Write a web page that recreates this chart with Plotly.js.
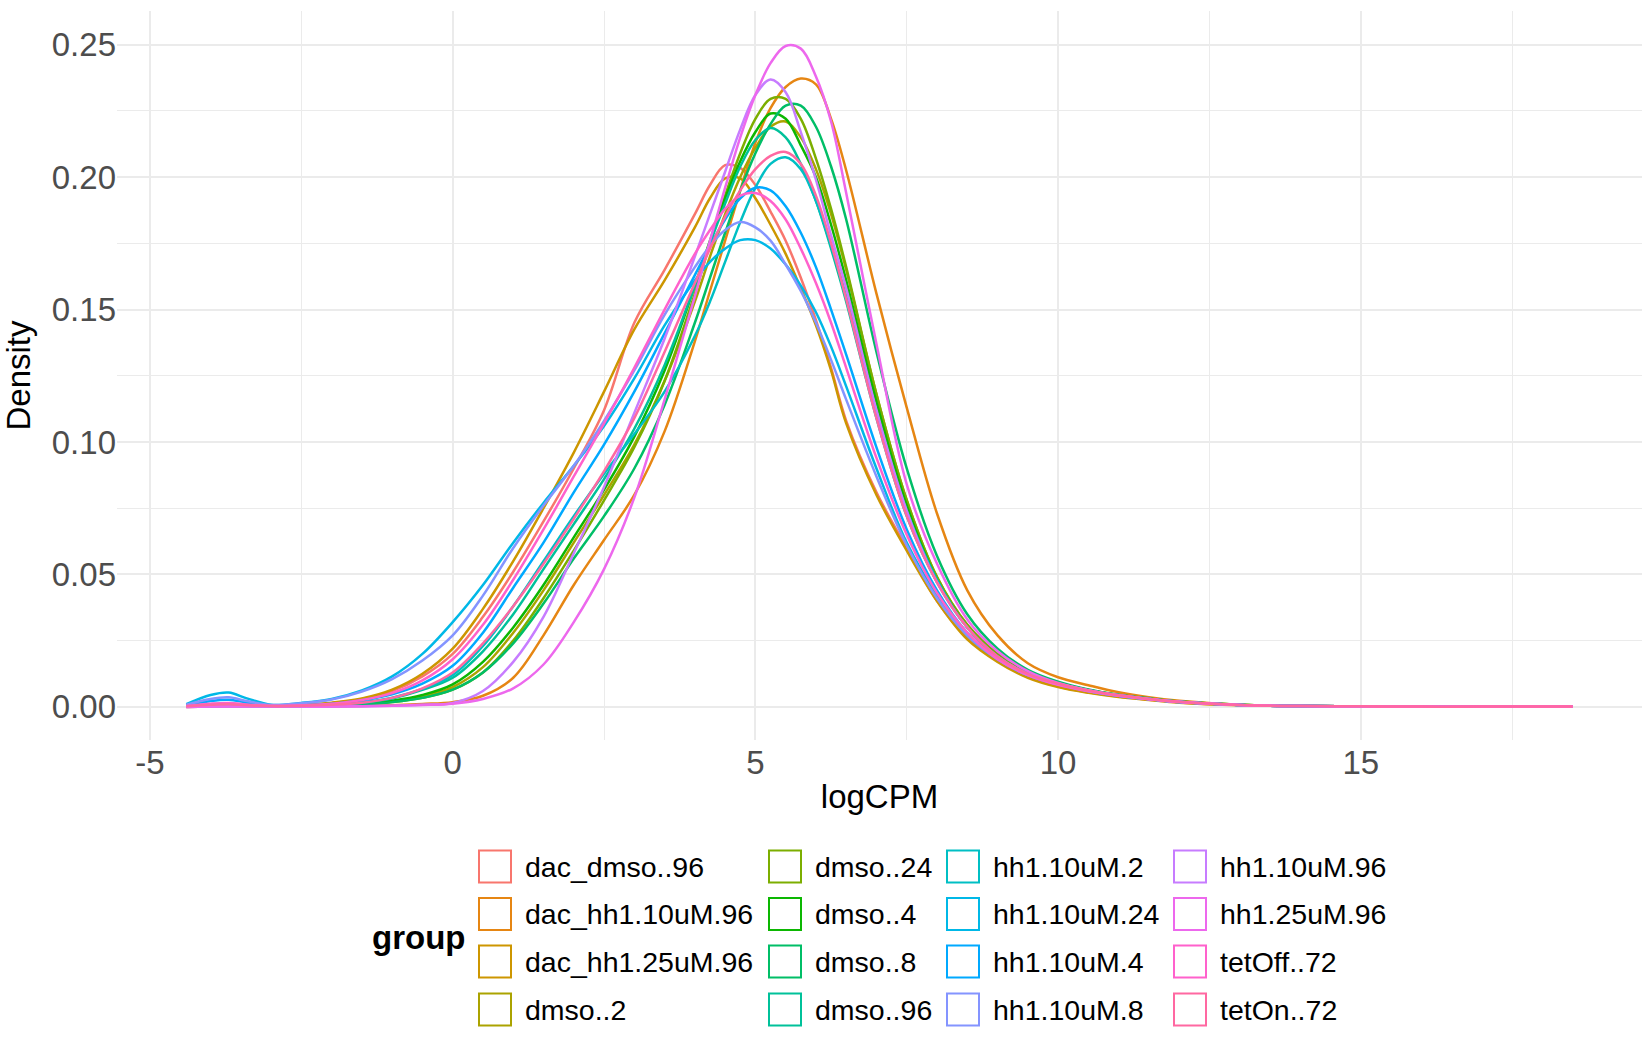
<!DOCTYPE html>
<html>
<head>
<meta charset="utf-8">
<script src="https://cdn.plot.ly/plotly-3.0.1.min.js"></script>
<style>
  html, body { margin: 0; padding: 0; background: #fff; }
  #chart { width: 1650px; height: 1050px; }
</style>
</head>
<body>
<div id="chart"></div>
<script>
// logCPM grid the density values were read at
const logCPM = [-4.4, -4.0, -3.7, -3.4, -3.0, -2.5, -2.0, -1.5, -1.0, -0.5,
  0, 0.5, 1.0, 1.5, 2.0, 2.5, 3.0, 3.5,
  4.0, 4.25, 4.5, 4.75, 5.0, 5.25, 5.5, 5.75, 6.0, 6.25, 6.5,
  7.0, 7.5, 8.0, 8.5, 9.0, 9.5, 10.0, 10.5, 11.0, 11.5, 12.0,
  13, 14, 15, 16, 17, 18.5]

const dacDmso96 = [0.0003, 0.0010, 0.0012, 0.0008, 0.0004, 0.0007, 0.0014, 0.0030, 0.0060, 0.0115,
  0.020, 0.034, 0.051, 0.070, 0.090, 0.112, 0.145, 0.165,
  0.186, 0.197, 0.2045, 0.2035, 0.197, 0.187, 0.176, 0.162, 0.146, 0.128, 0.108,
  0.081, 0.060, 0.040, 0.026, 0.0175, 0.0115, 0.0077, 0.0055, 0.0039, 0.0027, 0.0017,
  0.0007, 0.0003, 0.0002, 0.0001, 0.0001, 0.0001]
const dacHh110uM96 = [0.0000, 0.0001, 0.0001, 0.0001, 0.0001, 0.0001, 0.0001, 0.0003, 0.0006, 0.0011,
  0.0018, 0.0042, 0.011, 0.027, 0.046, 0.063, 0.080, 0.104,
  0.138, 0.157, 0.176, 0.195, 0.213, 0.226, 0.234, 0.2372, 0.235, 0.222, 0.2025,
  0.156, 0.113, 0.073, 0.044, 0.027, 0.0165, 0.0112, 0.0082, 0.0055, 0.0036, 0.0023,
  0.0008, 0.0003, 0.0002, 0.0001, 0.0001, 0.0001]
const dacHh125uM96 = [0.0003, 0.0010, 0.0012, 0.0008, 0.0004, 0.0008, 0.0016, 0.0032, 0.0065, 0.0125,
  0.022, 0.037, 0.055, 0.075, 0.096, 0.119, 0.1425, 0.161,
  0.181, 0.192, 0.1995, 0.1995, 0.192, 0.182, 0.171, 0.158, 0.144, 0.127, 0.107,
  0.080, 0.059, 0.040, 0.0255, 0.017, 0.011, 0.0075, 0.0053, 0.0037, 0.0026, 0.0016,
  0.0006, 0.0003, 0.0002, 0.0001, 0.0001, 0.0001]
const dmso2 = [0.0001, 0.0004, 0.0005, 0.0003, 0.0002, 0.0003, 0.0005, 0.0010, 0.0020, 0.0040,
  0.0075, 0.015, 0.028, 0.044, 0.062, 0.080, 0.099, 0.123,
  0.153, 0.170, 0.186, 0.200, 0.211, 0.219, 0.221, 0.215, 0.203, 0.186, 0.165,
  0.118, 0.078, 0.049, 0.031, 0.020, 0.013, 0.009, 0.0064, 0.0045, 0.0031, 0.0020,
  0.0008, 0.0003, 0.0002, 0.0001, 0.0001, 0.0001]
const dmso24 = [0.0001, 0.0003, 0.0004, 0.0003, 0.0002, 0.0003, 0.0005, 0.0009, 0.0018, 0.0034,
  0.0065, 0.013, 0.025, 0.041, 0.059, 0.078, 0.098, 0.123,
  0.156, 0.175, 0.193, 0.209, 0.222, 0.2295, 0.2295, 0.222, 0.207, 0.188, 0.166,
  0.118, 0.078, 0.049, 0.031, 0.020, 0.013, 0.009, 0.0064, 0.0045, 0.0031, 0.0020,
  0.0008, 0.0003, 0.0002, 0.0001, 0.0001, 0.0001]
const dmso4 = [0.0001, 0.0004, 0.0005, 0.0003, 0.0002, 0.0003, 0.0006, 0.0011, 0.0023, 0.0045,
  0.0085, 0.017, 0.030, 0.046, 0.064, 0.082, 0.102, 0.127,
  0.159, 0.176, 0.192, 0.206, 0.217, 0.224, 0.222, 0.212, 0.200, 0.182, 0.161,
  0.115, 0.076, 0.048, 0.030, 0.019, 0.0125, 0.0088, 0.0062, 0.0044, 0.0030, 0.0019,
  0.0007, 0.0003, 0.0002, 0.0001, 0.0001, 0.0001]
const dmso8 = [0.0001, 0.0003, 0.0004, 0.0003, 0.0002, 0.0003, 0.0005, 0.0009, 0.0018, 0.0034,
  0.0065, 0.013, 0.024, 0.039, 0.056, 0.072, 0.090, 0.114,
  0.145, 0.162, 0.179, 0.195, 0.209, 0.220, 0.227, 0.227, 0.219, 0.204, 0.184,
  0.134, 0.090, 0.057, 0.035, 0.022, 0.014, 0.0095, 0.0066, 0.0046, 0.0032, 0.0020,
  0.0008, 0.0003, 0.0002, 0.0001, 0.0001, 0.0001]
const dmso96 = [0.0002, 0.0008, 0.0010, 0.0006, 0.0003, 0.0004, 0.0007, 0.0015, 0.0032, 0.0064,
  0.011, 0.021, 0.035, 0.052, 0.069, 0.086, 0.105, 0.129,
  0.159, 0.175, 0.190, 0.204, 0.214, 0.2185, 0.215, 0.205, 0.191, 0.173, 0.153,
  0.109, 0.072, 0.047, 0.030, 0.019, 0.0125, 0.0088, 0.0062, 0.0044, 0.0030, 0.0019,
  0.0007, 0.0003, 0.0002, 0.0001, 0.0001, 0.0001]
const hh110uM2 = [0.0002, 0.0010, 0.0012, 0.0007, 0.0003, 0.0004, 0.0008, 0.0017, 0.0035, 0.0068,
  0.012, 0.023, 0.038, 0.055, 0.072, 0.088, 0.103, 0.119,
  0.140, 0.153, 0.168, 0.183, 0.196, 0.205, 0.2075, 0.203, 0.191, 0.174, 0.155,
  0.111, 0.074, 0.048, 0.030, 0.019, 0.0125, 0.0088, 0.0062, 0.0044, 0.0030, 0.0019,
  0.0007, 0.0003, 0.0002, 0.0001, 0.0001, 0.0001]
const hh110uM24 = [0.0010, 0.0045, 0.0054, 0.0032, 0.0008, 0.0015, 0.0030, 0.0062, 0.0115, 0.0200,
  0.032, 0.046, 0.062, 0.077, 0.091, 0.106, 0.124, 0.144,
  0.161, 0.168, 0.173, 0.1762, 0.1762, 0.173, 0.167, 0.159, 0.149, 0.136, 0.121,
  0.090, 0.062, 0.042, 0.027, 0.018, 0.012, 0.0085, 0.0060, 0.0042, 0.0029, 0.0018,
  0.0007, 0.0003, 0.0002, 0.0001, 0.0001, 0.0001]
const hh110uM4 = [0.0005, 0.0022, 0.0027, 0.0016, 0.0004, 0.0006, 0.0012, 0.0025, 0.0048, 0.0088,
  0.0155, 0.028, 0.045, 0.062, 0.081, 0.099, 0.119, 0.141,
  0.163, 0.174, 0.184, 0.192, 0.196, 0.195, 0.189, 0.179, 0.166, 0.150, 0.133,
  0.098, 0.067, 0.044, 0.028, 0.018, 0.012, 0.0085, 0.0060, 0.0042, 0.0029, 0.0018,
  0.0007, 0.0003, 0.0002, 0.0001, 0.0001, 0.0001]
const hh110uM8 = [0.0008, 0.0030, 0.0036, 0.0022, 0.0007, 0.0014, 0.0028, 0.0058, 0.0105, 0.0175,
  0.027, 0.042, 0.060, 0.076, 0.091, 0.108, 0.127, 0.148,
  0.166, 0.174, 0.180, 0.183, 0.181, 0.176, 0.167, 0.157, 0.145, 0.131, 0.116,
  0.087, 0.061, 0.041, 0.027, 0.018, 0.012, 0.0085, 0.0060, 0.0042, 0.0029, 0.0018,
  0.0007, 0.0003, 0.0002, 0.0001, 0.0001, 0.0001]
const hh110uM96 = [0.0000, 0.0001, 0.0001, 0.0001, 0.0001, 0.0001, 0.0001, 0.0002, 0.0004, 0.0008,
  0.0015, 0.006, 0.017, 0.034, 0.058, 0.083, 0.111, 0.139,
  0.170, 0.186, 0.202, 0.218, 0.231, 0.2368, 0.232, 0.217, 0.199, 0.178, 0.158,
  0.112, 0.074, 0.047, 0.030, 0.019, 0.0125, 0.0088, 0.0062, 0.0044, 0.0030, 0.0019,
  0.0007, 0.0003, 0.0002, 0.0001, 0.0001, 0.0001]
const hh125uM96 = [0.0000, 0.0001, 0.0001, 0.0001, 0.0001, 0.0001, 0.0001, 0.0002, 0.0004, 0.0007,
  0.0012, 0.003, 0.007, 0.016, 0.032, 0.052, 0.079, 0.116,
  0.155, 0.176, 0.196, 0.215, 0.231, 0.243, 0.2495, 0.2485, 0.238, 0.221, 0.194,
  0.137, 0.084, 0.054, 0.033, 0.021, 0.0135, 0.009, 0.0063, 0.0044, 0.0030, 0.0019,
  0.0007, 0.0003, 0.0002, 0.0001, 0.0001, 0.0001]
const tetOff72 = [0.0003, 0.0012, 0.0015, 0.0009, 0.0004, 0.0006, 0.0012, 0.0026, 0.0052, 0.0100,
  0.018, 0.031, 0.048, 0.067, 0.087, 0.107, 0.128, 0.150,
  0.171, 0.180, 0.188, 0.193, 0.194, 0.191, 0.184, 0.173, 0.160, 0.145, 0.128,
  0.094, 0.065, 0.043, 0.028, 0.018, 0.012, 0.0083, 0.0059, 0.0042, 0.0029, 0.0018,
  0.0007, 0.0003, 0.0002, 0.0001, 0.0001, 0.0001]
const tetOn72 = [0.0002, 0.0008, 0.0010, 0.0006, 0.0003, 0.0004, 0.0008, 0.0016, 0.0034, 0.0070,
  0.013, 0.024, 0.038, 0.054, 0.071, 0.089, 0.109, 0.134,
  0.160, 0.173, 0.185, 0.195, 0.203, 0.208, 0.2095, 0.205, 0.193, 0.175, 0.154,
  0.109, 0.072, 0.047, 0.030, 0.019, 0.0125, 0.0088, 0.0062, 0.0044, 0.0030, 0.0019,
  0.0007, 0.0003, 0.0002, 0.0001, 0.0001, 0.0001]

const groups = ["dac_dmso..96", "dac_hh1.10uM.96", "dac_hh1.25uM.96", "dmso..2",
  "dmso..24", "dmso..4", "dmso..8", "dmso..96",
  "hh1.10uM.2", "hh1.10uM.24", "hh1.10uM.4", "hh1.10uM.8",
  "hh1.10uM.96", "hh1.25uM.96", "tetOff..72", "tetOn..72"]
const groupDensity = [dacDmso96, dacHh110uM96, dacHh125uM96, dmso2,
  dmso24, dmso4, dmso8, dmso96,
  hh110uM2, hh110uM24, hh110uM4, hh110uM8,
  hh110uM96, hh125uM96, tetOff72, tetOn72]
// ggplot default hue palette, 16 levels
const groupColors = ["#F8766D", "#E68613", "#CD9600", "#ABA300",
  "#7CAE00", "#0CB702", "#00BE67", "#00C19A",
  "#00BFC4", "#00B8E7", "#00A9FF", "#8494FF",
  "#C77CFF", "#ED68ED", "#FF61CC", "#FF68A1"]

const xTicks = [-5, 0, 5, 10, 15]
const xMinor = [-2.5, 2.5, 7.5, 12.5, 17.5]
const yTicks = [0, 0.05, 0.10, 0.15, 0.20, 0.25]
const yMinor = [0.025, 0.075, 0.125, 0.175, 0.225]

const FONT = "Liberation Sans, Arial, Helvetica, sans-serif"
const W = 1650, H = 1050
const margin = { l: 117, r: 8, t: 11, b: 310 }
const plotW = W - margin.l - margin.r
const plotH = H - margin.t - margin.b
const paperX = px => (px - margin.l) / plotW
const paperY = py => (H - margin.b - py) / plotH

function densityTraces() {
    return groups.map((name, i) => ({
        type: "scatter",
        mode: "lines",
        name: name,
        x: logCPM,
        y: groupDensity[i],
        line: { color: groupColors[i], width: 2.5, shape: "spline", smoothing: 1 },
        showlegend: false
    }))
}

// ggplot style legend: 4 columns filled top to bottom, outlined keys
function legendParts() {
    const keyX = [478, 768, 946, 1173]
    const rowY = [866.5, 914, 961.5, 1009.5]
    const key = 34
    const shapes = []
    const annotations = []
    groups.forEach((name, i) => {
        const kx = keyX[Math.floor(i / 4)]
        const cy = rowY[i % 4]
        shapes.push({
            type: "rect", xref: "paper", yref: "paper",
            x0: paperX(kx + 1), x1: paperX(kx + key - 1),
            y0: paperY(cy + key / 2 - 1), y1: paperY(cy - key / 2 + 1),
            line: { color: groupColors[i], width: 2 },
            fillcolor: "rgba(0,0,0,0)"
        })
        annotations.push({
            xref: "paper", yref: "paper",
            x: paperX(kx + 45), y: paperY(cy),
            xanchor: "left", yanchor: "middle",
            text: name, showarrow: false,
            font: { family: FONT, size: 28.5, color: "#000000" }
        })
    })
    annotations.push({
        xref: "paper", yref: "paper",
        x: paperX(467), y: paperY(938),
        xanchor: "right", yanchor: "middle",
        text: "<b>group</b>", showarrow: false,
        font: { family: FONT, size: 33, color: "#000000" }
    })
    return { shapes, annotations }
}

const legend = legendParts()

const layout = {
    width: W,
    height: H,
    margin: margin,
    paper_bgcolor: "#FFFFFF",
    plot_bgcolor: "#FFFFFF",
    font: { family: FONT },
    showlegend: false,
    xaxis: {
        range: [-5.545, 19.645],
        tickmode: "array",
        tickvals: xTicks,
        ticktext: xTicks.map(String),
        ticks: "",
        tickfont: { size: 33, color: "#4D4D4D" },
        showgrid: true,
        gridcolor: "#EBEBEB",
        gridwidth: 1.6,
        minor: { tickmode: "array", tickvals: xMinor, showgrid: true, gridcolor: "#EBEBEB", gridwidth: 0.9, ticks: "" },
        zeroline: false,
        showline: false,
        title: { text: "logCPM", font: { size: 33, color: "#000000" }, standoff: 4 }
    },
    yaxis: {
        range: [-0.0125, 0.2627],
        tickmode: "array",
        tickvals: yTicks,
        ticktext: yTicks.map(v => v.toFixed(2)),
        ticks: "",
        tickfont: { size: 33, color: "#4D4D4D" },
        showgrid: true,
        gridcolor: "#EBEBEB",
        gridwidth: 1.6,
        minor: { tickmode: "array", tickvals: yMinor, showgrid: true, gridcolor: "#EBEBEB", gridwidth: 0.9, ticks: "" },
        zeroline: false,
        showline: false,
        title: { text: "Density", font: { size: 33, color: "#000000" }, standoff: 12 }
    },
    shapes: legend.shapes,
    annotations: legend.annotations
}

Plotly.newPlot("chart", densityTraces(), layout, { displayModeBar: false, responsive: false })
</script>
</body>
</html>
